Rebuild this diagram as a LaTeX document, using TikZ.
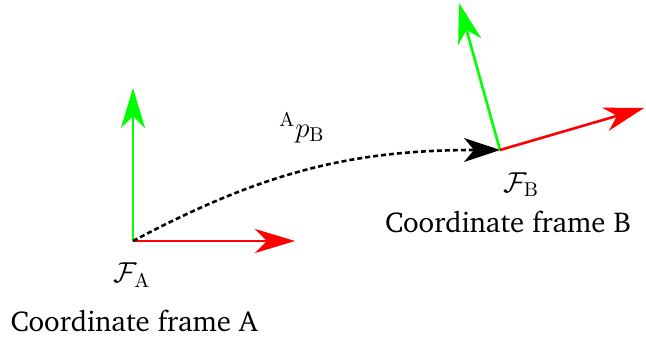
\documentclass[tikz,border=0pt]{standalone}
\usepackage[T1]{fontenc}
\usepackage{charter}
\usetikzlibrary{arrows.meta}

\tikzset{
  axis/.style={line width=1.3pt, -{Stealth[length=20pt,width=12pt,inset=6pt]}},
  xaxis/.style={axis, red},
  yaxis/.style={axis, green},
  transl/.style={line width=1.3pt, dash pattern=on 2.5pt off 1.5pt,
    -{Stealth[length=18pt,width=12pt,inset=5pt]}},
}

\begin{document}
\begin{tikzpicture}[x=0.5pt,y=0.5pt,font=\fontsize{14.4}{17}\selectfont]
\useasboundingbox (0,0) rectangle (646,337);

% frame A
\coordinate (oA) at (133,96);
\coordinate (xA) at (295,96);
\coordinate (yA) at (133,249);

% frame B
\coordinate (oB) at (500,187);
\coordinate (xB) at (644,229);
\coordinate (yB) at (459,334);

\draw[yaxis] (oA) -- (yA);
\draw[xaxis] (oA) -- (xA);
\draw[yaxis] (oB) -- (yB);
\draw[xaxis] (oB) -- (xB);

\draw[transl] (oA) to[out=28,in=180] (oB);

\node (fA) at (132,62) {$\mathcal{F}_{\mathrm{A}}$};
\node (nameA) at (134,16) {Coordinate frame A};
\node (pAB) at (302,209) {${}^{\mathrm{A}}p_{\mathrm{B}}$};
\node (fB) at (521,152) {$\mathcal{F}_{\mathrm{B}}$};
\node (nameB) at (508,115) {Coordinate frame B};
\end{tikzpicture}
\end{document}
